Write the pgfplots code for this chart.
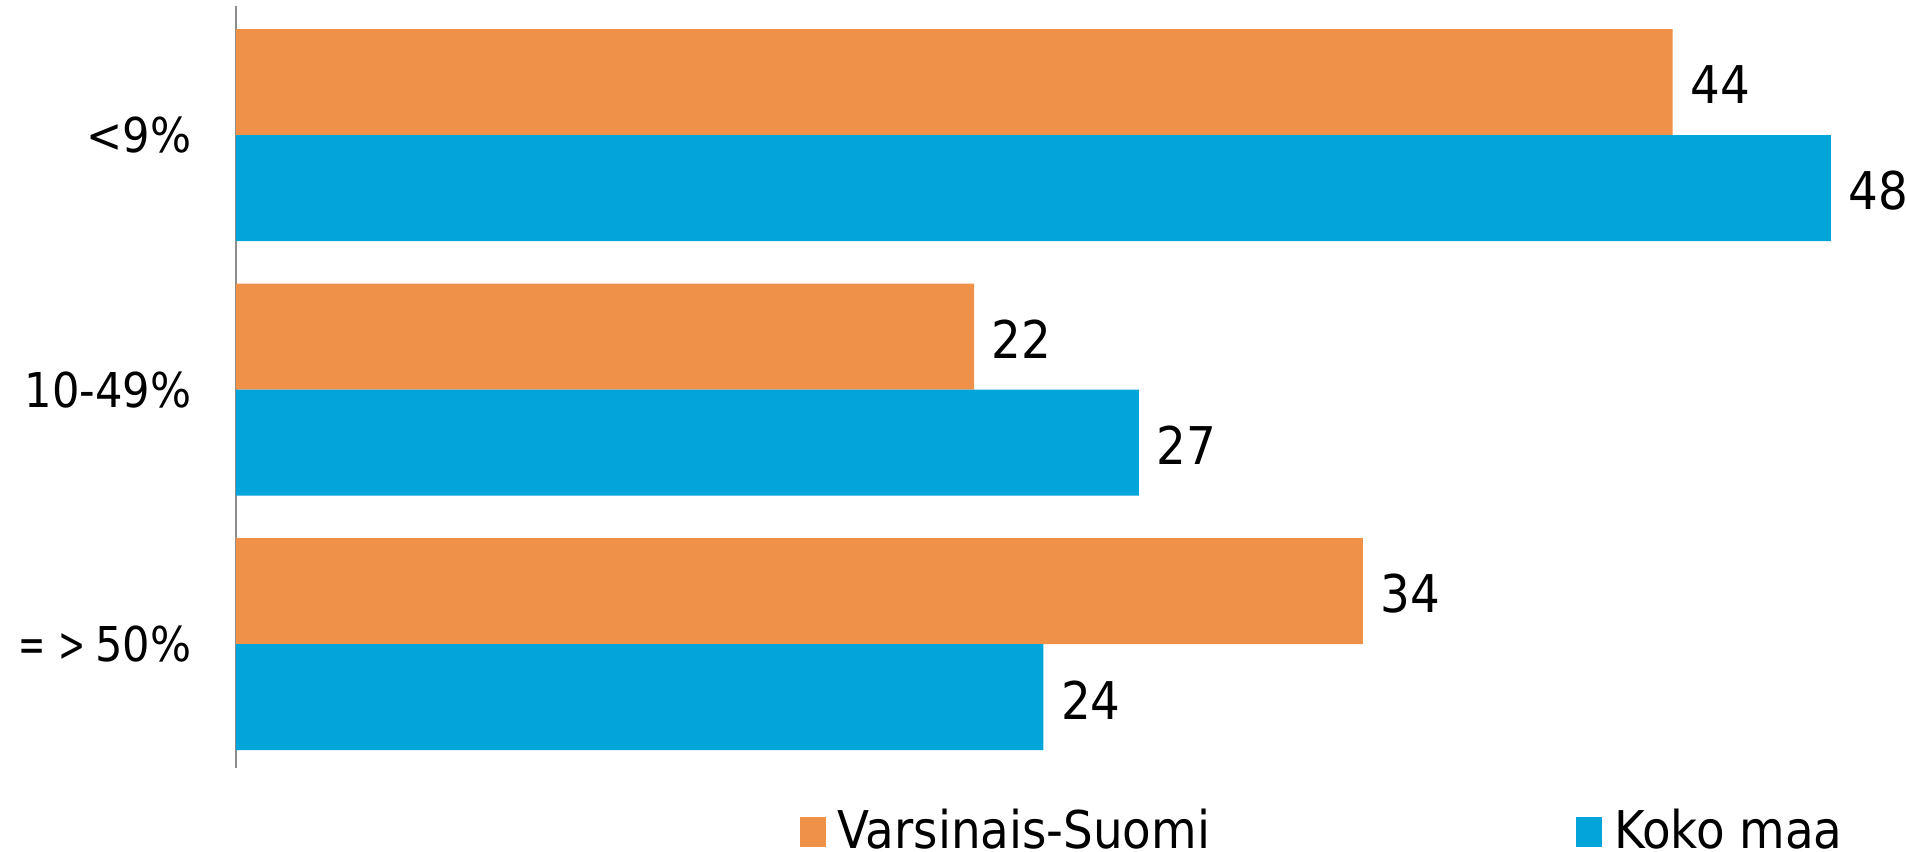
\documentclass[border=0pt]{standalone}
\usepackage{graphicx}
\usepackage{pgfplots}
\pgfplotsset{compat=1.18}
\usepackage{fontspec}
\setmainfont{DejaVu Sans Condensed}
\definecolor{vsorange}{RGB}{240,145,74}
\definecolor{kmblue}{RGB}{2,165,218}
\begin{document}
\begin{tikzpicture}
\begin{axis}[
  name=ax,
  scale only axis,
  width=411.875pt, height=190.5pt,
  xbar, bar width=26.5pt,
  xmin=0, xmax=50,
  ymin=-0.487, ymax=2.507,
  axis x line=none,
  axis y line*=left,
  axis line style={-, draw=gray!90, line width=0.5pt},
  ytick={0,1,2},
  yticklabels={{\scalebox{0.75}[1]{=}\hspace{3pt}\scalebox{0.75}[1]{>}\hspace{2.5pt}50\%},{10-49\%},{<9\%}},
  major tick length=0pt,
  yticklabel style={font=\fontsize{12}{14}\selectfont, anchor=east, inner sep=0pt, xshift=-11pt},
  point meta=explicit symbolic,
  nodes near coords,
  every node near coord/.append style={font=\fontsize{13}{15}\selectfont, anchor=west, inner sep=0pt, xshift=4.25pt, yshift=-0.7pt, black},
  clip=false,
  legend columns=2,
  legend style={draw=none, fill=none, at={(axis description cs:0.3417,0)}, anchor=west, yshift=-16pt,
    font=\fontsize{13}{15}\selectfont, inner sep=0pt,
    /tikz/every odd column/.append style={column sep=1pt},
    /tikz/every even column/.append style={column sep=89.5pt},
    cells={anchor=west}},
  legend image code/.code={\fill[#1] (0pt,-3.75pt) rectangle (6.5pt,3.75pt);},
]
\addplot[fill=vsorange, draw=none, bar shift=13.25pt] coordinates {(43.6,2) [44] (22.4,1) [22] (34.2,0) [34]};
\addplot[fill=kmblue, draw=none, bar shift=-13.25pt] coordinates {(48.4,2) [48] (27.4,1) [27] (24.5,0) [24]};
\legend{Varsinais-Suomi, Koko maa}
\end{axis}
\pgfresetboundingbox
\path[use as bounding box] ([shift={(-59pt,-20.75pt)}]ax.south west) rectangle ([shift={(417.5pt,192pt)}]ax.south west);
\end{tikzpicture}
\end{document}
